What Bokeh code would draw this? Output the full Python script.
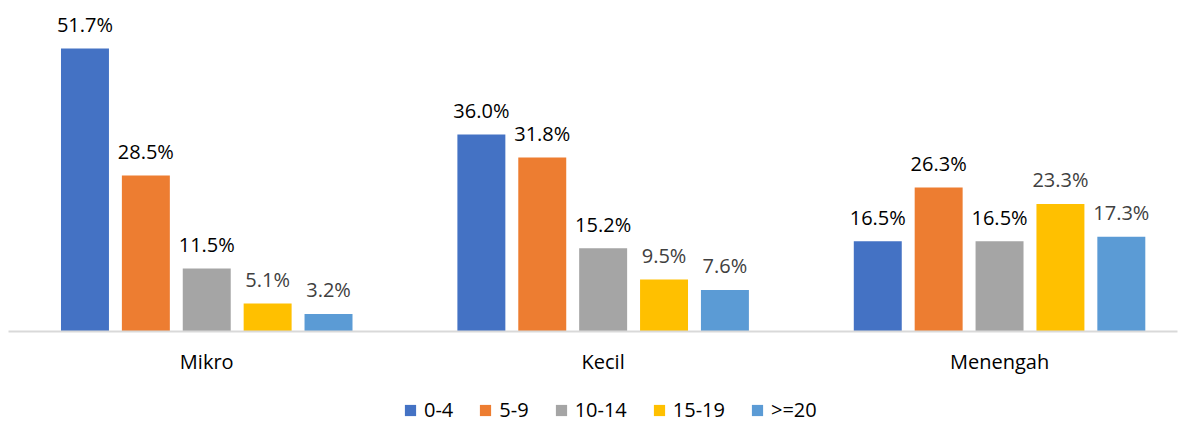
from bokeh.plotting import figure
from bokeh.models import ColumnDataSource, Range1d, FixedTicker, Legend, LegendItem
from bokeh.core.properties import value
from bokeh.embed import file_html
from bokeh.resources import INLINE

categories = ["Mikro", "Kecil", "Menengah"]
series = ["0-4", "5-9", "10-14", "15-19", ">=20"]
values = {
    "0-4":   [51.7, 36.0, 16.5],
    "5-9":   [28.5, 31.8, 26.3],
    "10-14": [11.5, 15.2, 16.5],
    "15-19": [5.1, 9.5, 23.3],
    ">=20":  [3.2, 7.6, 17.3],
}
colors = ["#4472C4", "#ED7D31", "#A5A5A5", "#FFC000", "#5B9BD5"]
label_colors = ["#000000", "#000000", "#000000", "#404040", "#404040"]

FONT = "Open Sans"
PX_PER_UNIT = 5.474
x_start = -0.5203
x_end = x_start + 1182 / 396.4

p = figure(width=1182, height=423, output_backend="svg", toolbar_location=None,
           x_range=Range1d(x_start, x_end),
           y_range=Range1d(-(423 - 331) / PX_PER_UNIT, 331 / PX_PER_UNIT),
           y_axis_location=None, min_border_left=0, min_border_right=0,
           min_border_top=0, min_border_bottom=0)
p.outline_line_color = None
p.xgrid.visible = False
p.ygrid.visible = False
p.background_fill_color = "white"
p.border_fill_color = "white"

offset = 0.1536
bw = 0.121
items = []
for i, s in enumerate(series):
    xs = [c + (i - 2) * offset for c in range(len(categories))]
    src = ColumnDataSource(dict(x=xs, top=values[s],
                                lab=["%.1f%%" % v for v in values[s]]))
    r = p.vbar(x="x", top="top", width=bw, bottom=0, source=src,
               fill_color=colors[i], line_color=None)
    p.text(x="x", y="top", text="lab", source=src, text_align="center",
           text_baseline="alphabetic", y_offset=-24,
           text_font=value(FONT), text_font_size="20px",
           text_color=label_colors[i])
    items.append(LegendItem(label=s, renderers=[r]))

ax = p.xaxis[0]
ax.fixed_location = 0
ax.ticker = FixedTicker(ticks=list(range(len(categories))))
ax.major_label_overrides = {i: c for i, c in enumerate(categories)}
ax.major_label_text_font = FONT
ax.major_label_text_font_size = "20px"
ax.major_label_text_color = "#000000"
ax.major_tick_line_color = None
ax.minor_tick_line_color = None
ax.major_tick_out = 0
ax.major_label_standoff = 16
ax.axis_line_color = "#d9d9d9"
ax.axis_line_width = 2
ax.bounds = (-0.5001, 2.4489)

legend = Legend(items=items, orientation="horizontal", location=(403, 0),
                label_text_font=FONT, label_text_font_size="20px",
                label_text_color="#000000",
                glyph_width=14, glyph_height=14, label_standoff=7, spacing=25,
                padding=0, margin=0, border_line_color=None,
                background_fill_alpha=0)
p.add_layout(legend, "center")

open("out.html", "w").write(file_html(p, INLINE))
